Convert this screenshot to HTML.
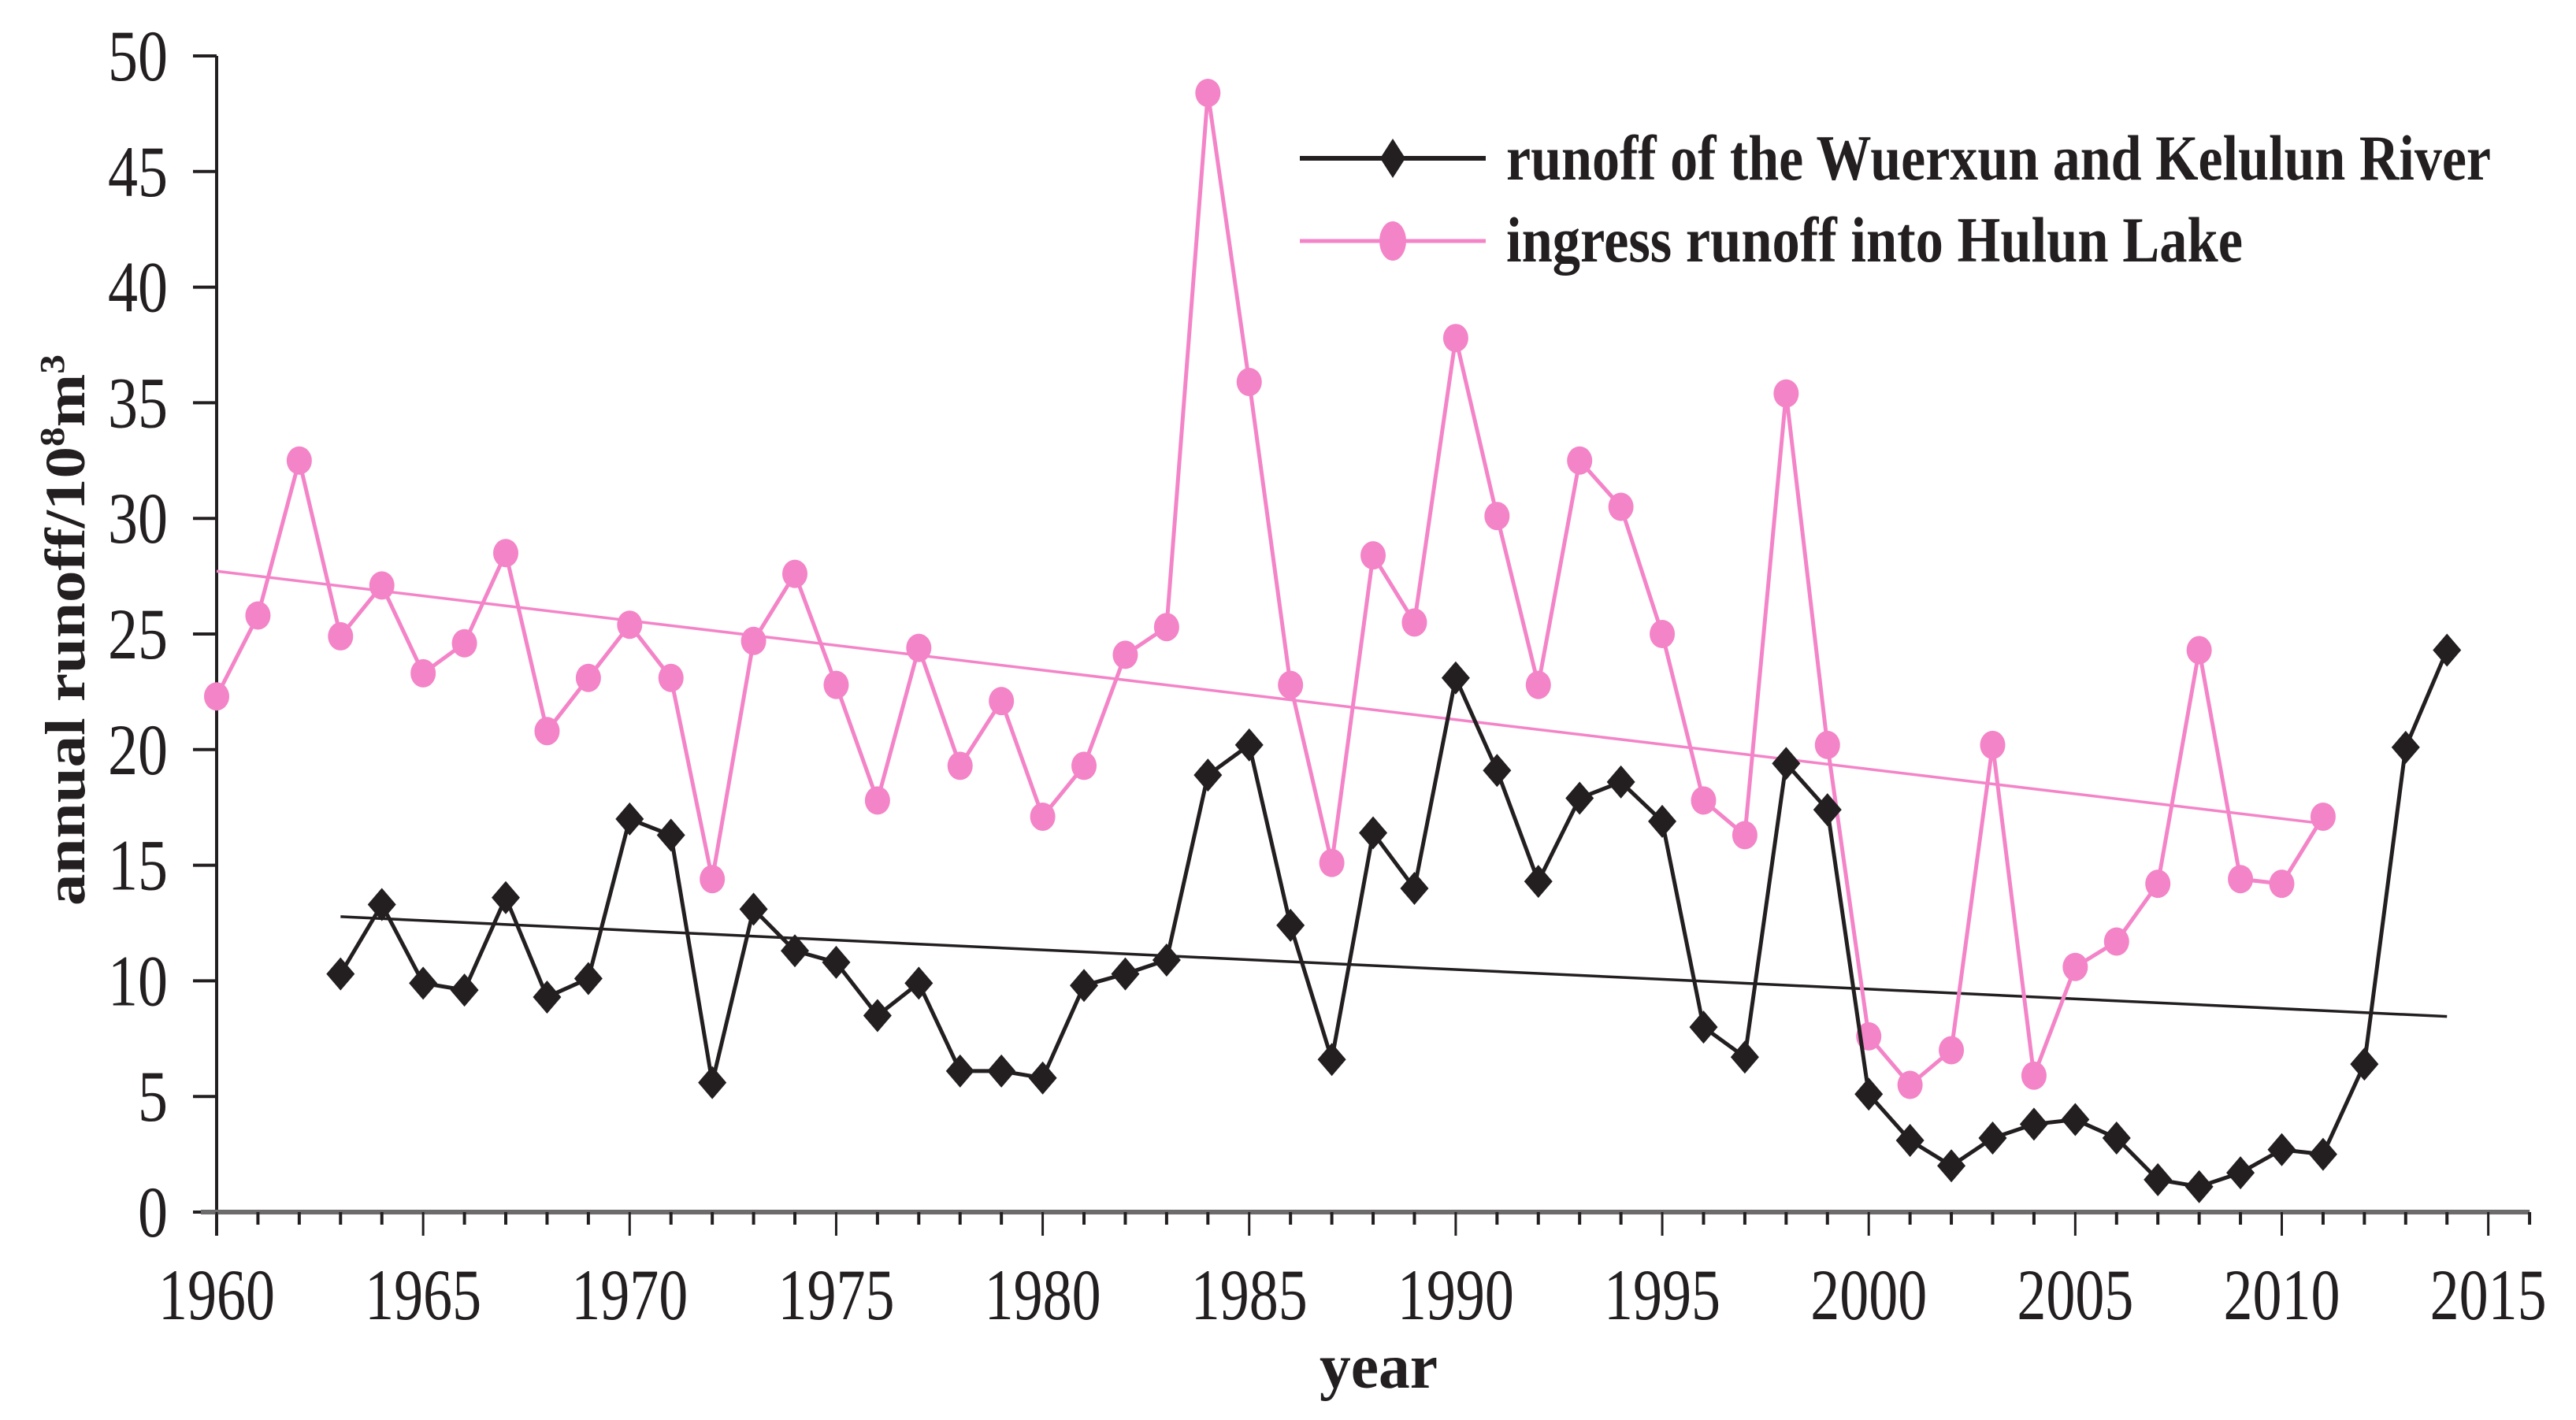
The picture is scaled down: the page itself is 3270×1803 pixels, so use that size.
<!DOCTYPE html>
<html><head><meta charset="utf-8"><style>
html,body{margin:0;padding:0;background:#fff;}
svg{display:block;}
text{font-family:"Liberation Serif",serif;fill:#231f20;}
</style></head><body>
<svg id="chart" width="3270" height="1803" viewBox="0 0 3270 1803" xmlns="http://www.w3.org/2000/svg">
<g id="axes"></g>
<g id="trends"></g>
<g id="series"></g>
<g id="legend">
  <line x1="1650" y1="201" x2="1886" y2="201" stroke="#231f20" stroke-width="6"/>
  <polygon points="1768,176 1784,201 1768,226 1752,201" fill="#231f20"/>
  <text x="1912" y="228" font-size="82" font-weight="bold" textLength="1250" lengthAdjust="spacingAndGlyphs">runoff of the Wuerxun and Kelulun River</text>
  <line x1="1650" y1="306" x2="1886" y2="306" stroke="#f484c8" stroke-width="5"/>
  <ellipse cx="1768" cy="306" rx="17" ry="25" fill="#f484c8"/>
  <text x="1912" y="332" font-size="82" font-weight="bold" textLength="935" lengthAdjust="spacingAndGlyphs">ingress runoff into Hulun Lake</text>
</g>
<text x="107" y="800" font-size="72" font-weight="bold" text-anchor="middle" transform="rotate(-90 107 800)" textLength="700" lengthAdjust="spacingAndGlyphs">annual runoff/10<tspan font-size="44" dy="-26">8</tspan><tspan dy="26">m</tspan><tspan font-size="44" dy="-26">3</tspan></text>
<text x="1750" y="1762" font-size="80" font-weight="bold" text-anchor="middle" textLength="150" lengthAdjust="spacingAndGlyphs">year</text>
</svg>
<script>
const riverYears=[1963,1964,1965,1966,1967,1968,1969,1970,1971,1972,1973,1974,1975,1976,1977,1978,1979,1980,1981,1982,1983,1984,1985,1986,1987,1988,1989,1990,1991,1992,1993,1994,1995,1996,1997,1998,1999,2000,2001,2002,2003,2004,2005,2006,2007,2008,2009,2010,2011,2012,2013,2014];
const riverValues=[10.3,13.3,9.9,9.6,13.6,9.3,10.1,17.0,16.3,5.6,13.1,11.3,10.8,8.5,9.9,6.1,6.1,5.8,9.8,10.3,10.9,18.9,20.2,12.4,6.6,16.4,14.0,23.1,19.1,14.3,17.9,18.6,16.9,8.0,6.7,19.4,17.4,5.1,3.1,2.0,3.2,3.8,4.0,3.2,1.4,1.1,1.7,2.7,2.5,6.4,20.1,24.3];
const lakeYears=[1960,1961,1962,1963,1964,1965,1966,1967,1968,1969,1970,1971,1972,1973,1974,1975,1976,1977,1978,1979,1980,1981,1982,1983,1984,1985,1986,1987,1988,1989,1990,1991,1992,1993,1994,1995,1996,1997,1998,1999,2000,2001,2002,2003,2004,2005,2006,2007,2008,2009,2010,2011];
const lakeValues=[22.3,25.8,32.5,24.9,27.1,23.3,24.6,28.5,20.8,23.1,25.4,23.1,14.4,24.7,27.6,22.8,17.8,24.4,19.3,22.1,17.1,19.3,24.1,25.3,48.4,35.9,22.8,15.1,28.4,25.5,37.8,30.1,22.8,32.5,30.5,25.0,17.8,16.3,35.4,20.2,7.6,5.5,7.0,20.2,5.9,10.6,11.7,14.2,24.3,14.4,14.2,17.1];
const yTicks=[0,5,10,15,20,25,30,35,40,45,50];
const xTickLabels=[1960,1965,1970,1975,1980,1985,1990,1995,2000,2005,2010,2015];

const NS="http://www.w3.org/2000/svg";
const X0=275, PXY=52.43, Y0=1539, PXV=29.36;
function xs(yr){return X0+(yr-1960)*PXY;}
function ys(v){return Y0-v*PXV;}
function mk(tag,attrs,parent){const e=document.createElementNS(NS,tag);for(const k in attrs)e.setAttribute(k,attrs[k]);parent.appendChild(e);return e;}

const axes=document.getElementById('axes');
let ya=mk('line',{x1:X0,y1:ys(50),x2:X0,y2:Y0+30,stroke:'#231f20','stroke-width':4},axes);


yTicks.forEach(v=>{
  const t=mk('line',{x1:X0-30,y1:ys(v),x2:X0,y2:ys(v),stroke:'#231f20','stroke-width':4},axes);
  
  
  const s=String(v);
  const l=mk('text',{x:213,y:ys(v)+31,'font-size':92,'text-anchor':'end',textLength:s.length*38,lengthAdjust:'spacingAndGlyphs'},axes);
  l.textContent=s;
  
  
});
let xa=mk('line',{x1:X0-20,y1:Y0,x2:xs(2016),y2:Y0,stroke:'#6d6b6c','stroke-width':6},axes);


for(let yr=1960;yr<=2016;yr++){
  const major=(yr%5===0);
  const t=mk('line',{x1:xs(yr),y1:Y0,x2:xs(yr),y2:Y0+(major?30:16),stroke:'#231f20','stroke-width':major?3:4},axes);
  
  
}
xTickLabels.forEach(yr=>{
  const l=mk('text',{x:xs(yr),y:1675,'font-size':92,'text-anchor':'middle',textLength:148,lengthAdjust:'spacingAndGlyphs'},axes);
  l.textContent=String(yr);
  
  
});

function fit(xsArr,vs){const n=xsArr.length;let sx=0,sy=0,sxx=0,sxy=0;for(let i=0;i<n;i++){sx+=xsArr[i];sy+=vs[i];sxx+=xsArr[i]*xsArr[i];sxy+=xsArr[i]*vs[i];}const b=(n*sxy-sx*sy)/(n*sxx-sx*sx);return {a:(sy-b*sx)/n,b:b};}
const trends=document.getElementById('trends');
[[lakeYears,lakeValues,'#f484c8','trend-lake'],[riverYears,riverValues,'#231f20','trend-river']].forEach(([yy,vv,c,name])=>{
  const f=fit(yy,vv);const a=yy[0],b=yy[yy.length-1];
  const ln=mk('line',{x1:xs(a),y1:ys(f.a+f.b*a),x2:xs(b),y2:ys(f.a+f.b*b),stroke:c,'stroke-width':3.5},trends);
  
  
});

const series=document.getElementById('series');
const lp=mk('polyline',{points:lakeYears.map((y,i)=>xs(y)+','+ys(lakeValues[i])).join(' '),fill:'none',stroke:'#f484c8','stroke-width':5,'stroke-linejoin':'round'},series);


lakeYears.forEach((y,i)=>{
  const c=mk('ellipse',{cx:xs(y),cy:ys(lakeValues[i]),rx:16,ry:18,fill:'#f484c8'},series);
  
  
});
const rp=mk('polyline',{points:riverYears.map((y,i)=>xs(y)+','+ys(riverValues[i])).join(' '),fill:'none',stroke:'#231f20','stroke-width':5,'stroke-linejoin':'round'},series);


riverYears.forEach((y,i)=>{
  const cx=xs(y),cy=ys(riverValues[i]);
  const d=mk('polygon',{points:`${cx},${cy-21} ${cx+18},${cy} ${cx},${cy+21} ${cx-18},${cy}`,fill:'#231f20'},series);
  
  
});
</script>
</body></html>
